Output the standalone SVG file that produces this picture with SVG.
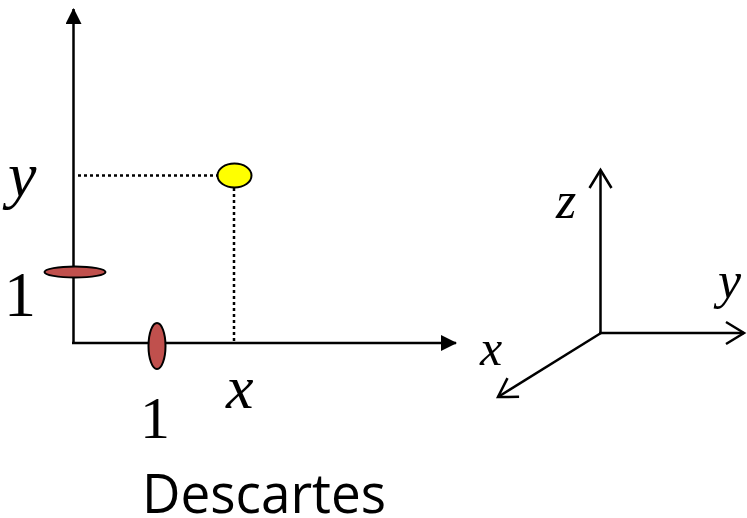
<svg xmlns="http://www.w3.org/2000/svg" width="747" height="518" viewBox="0 0 747 518">
  <defs>
    <style>
      .axis { stroke: #000; stroke-width: 2.5; fill: none; }
      .dot { stroke: #000; stroke-width: 2.5; stroke-dasharray: 3 3; fill: none; }
      .lbl { font-family: "Liberation Serif", "Times New Roman", serif; font-style: italic; fill: #000; }
      .num { font-family: "Liberation Serif", "Times New Roman", serif; fill: #000; }
      .tick { fill: #C0504D; stroke: #000; stroke-width: 2; }
    </style>
    <marker id="solid" markerUnits="userSpaceOnUse" viewBox="0 0 16 16" markerWidth="16" markerHeight="16" refX="15" refY="8" orient="auto">
      <path d="M0,0 L16,8 L0,16 z" fill="#000"/>
    </marker>
    <marker id="open" markerUnits="userSpaceOnUse" viewBox="-2 -2 24 26" markerWidth="24" markerHeight="26" refX="18" refY="11" orient="auto">
      <path d="M0,0 L18,11 L0,22" fill="none" stroke="#000" stroke-width="2.5"/>
    </marker>
  </defs>

  <g id="connectors">
    <line class="axis" x1="73.5" y1="343" x2="73.5" y2="9" marker-end="url(#solid)"/>
    <line class="axis" x1="72" y1="343" x2="456" y2="343" marker-end="url(#solid)"/>
    <line class="dot" x1="78" y1="175.5" x2="217" y2="175.5"/>
    <line class="dot" x1="234" y1="188" x2="234" y2="342"/>
    <line class="axis" x1="600.5" y1="334" x2="600.5" y2="170" marker-end="url(#open)"/>
    <line class="axis" x1="599" y1="333" x2="744" y2="333" marker-end="url(#open)"/>
    <line class="axis" x1="601" y1="333" x2="498" y2="397" marker-end="url(#open)"/>
  </g>

  <g id="tick-y">
    <ellipse class="tick" cx="75" cy="272" rx="30.5" ry="5.5"/>
  </g>
  <g id="tick-x">
    <ellipse class="tick" cx="157" cy="346" rx="8.5" ry="23"/>
  </g>
  <g id="point">
    <ellipse cx="234.5" cy="175.5" rx="17" ry="12" fill="#FFFF00" stroke="#000" stroke-width="2"/>
  </g>

  <g id="labels">
    <text class="lbl" x="8" y="196" font-size="64">y</text>
    <text class="num" x="20" y="316" font-size="64" text-anchor="middle">1</text>
    <text class="num" x="155" y="438" font-size="60" text-anchor="middle">1</text>
    <text class="lbl" x="226" y="408" font-size="62">x</text>
    <text class="lbl" x="480" y="365" font-size="50">x</text>
    <text class="lbl" x="556" y="218" font-size="52">z</text>
    <text class="lbl" x="718" y="298" font-size="52">y</text>
    <text x="142" y="513" font-family="'Open Sans', 'Noto Sans', sans-serif" font-size="54" fill="#000" textLength="244" lengthAdjust="spacingAndGlyphs">Descartes</text>
  </g>
</svg>
